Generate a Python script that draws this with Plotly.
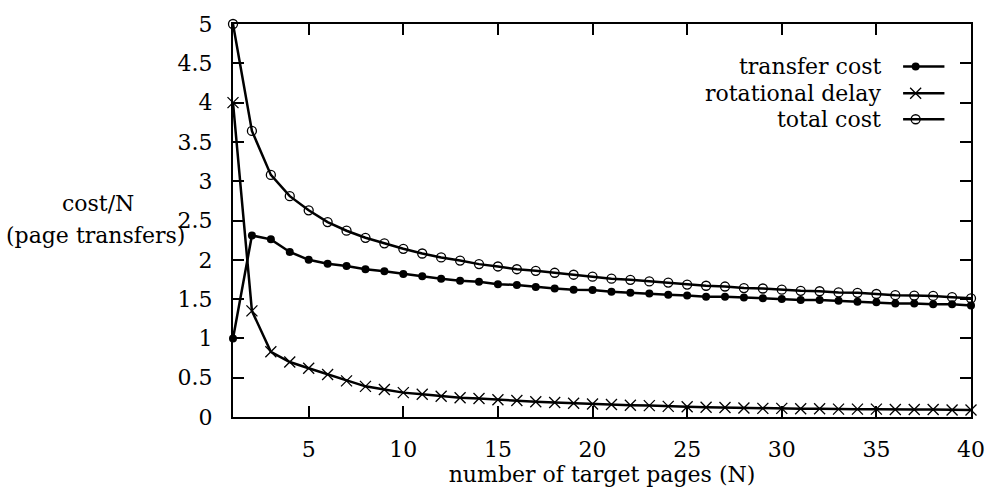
import plotly.graph_objects as go

N = list(range(1, 41))
transfer_cost = [1.00, 2.31, 2.26, 2.10, 2.00, 1.95, 1.92, 1.88, 1.855, 1.82,
                 1.79, 1.76, 1.735, 1.72, 1.69, 1.68, 1.655, 1.635, 1.62, 1.615,
                 1.595, 1.58, 1.57, 1.555, 1.545, 1.53, 1.53, 1.52, 1.51, 1.50,
                 1.49, 1.49, 1.48, 1.465, 1.46, 1.445, 1.445, 1.435, 1.435, 1.42]
rotational_delay = [4.00, 1.35, 0.83, 0.70, 0.62, 0.54, 0.46, 0.39, 0.35, 0.31,
                    0.29, 0.265, 0.245, 0.235, 0.22, 0.21, 0.195, 0.185, 0.175, 0.165,
                    0.16, 0.15, 0.145, 0.135, 0.13, 0.125, 0.12, 0.115, 0.11, 0.11,
                    0.105, 0.105, 0.10, 0.10, 0.10, 0.095, 0.095, 0.095, 0.09, 0.09]
total_cost = [5.00, 3.64, 3.08, 2.81, 2.63, 2.48, 2.37, 2.28, 2.21, 2.14,
              2.08, 2.03, 1.99, 1.945, 1.915, 1.88, 1.86, 1.835, 1.81, 1.785,
              1.76, 1.745, 1.725, 1.71, 1.685, 1.67, 1.66, 1.64, 1.635, 1.62,
              1.605, 1.60, 1.585, 1.58, 1.565, 1.55, 1.545, 1.54, 1.525, 1.51]
x_ticks = [5, 10, 15, 20, 25, 30, 35, 40]
y_ticks = [0, 0.5, 1, 1.5, 2, 2.5, 3, 3.5, 4, 4.5, 5]
y_tick_text = ["0", "0.5", "1", "1.5", "2", "2.5", "3", "3.5", "4", "4.5", "5"]
series_names = ["transfer cost", "rotational delay", "total cost"]

FONT = "DejaVu Serif"
FS = 22
LW = 2.5

fig = go.Figure()

styles = [
    dict(symbol="circle", size=8, color="black", line=dict(width=0)),
    dict(symbol="x-thin", size=11, color="black", line=dict(width=1.3, color="black")),
    dict(symbol="circle-open", size=9, color="black", line=dict(width=1.3, color="black")),
]
for name, ys, st in zip(series_names, [transfer_cost, rotational_delay, total_cost], styles):
    fig.add_trace(go.Scatter(x=N, y=ys, mode="lines+markers", name=name,
                             line=dict(color="black", width=LW), marker=st,
                             cliponaxis=False, showlegend=False))

# custom gnuplot-style key (text right, sample at right) on an overlay paper axis
key_y = [0.8917, 0.8237, 0.7576]
for name, ky, st in zip(series_names, key_y, styles):
    fig.add_trace(go.Scatter(x=[0.908, 0.964], y=[ky, ky], mode="lines",
                             line=dict(color="black", width=LW),
                             xaxis="x2", yaxis="y2", showlegend=False, hoverinfo="skip"))
    fig.add_trace(go.Scatter(x=[0.925], y=[ky], mode="markers", marker=st,
                             xaxis="x2", yaxis="y2", showlegend=False, hoverinfo="skip",
                             cliponaxis=False))
    fig.add_annotation(text=name, xref="paper", yref="paper", x=0.8813, y=ky,
                       xanchor="right", yanchor="middle", showarrow=False,
                       font=dict(family=FONT, size=FS, color="black"))

fig.add_annotation(text="cost/N", xref="paper", yref="paper",
                   x=-0.1827, y=0.5422, xanchor="center", yanchor="middle",
                   showarrow=False, font=dict(family=FONT, size=FS, color="black"))
fig.add_annotation(text="(page transfers)", xref="paper", yref="paper",
                   x=-0.1867, y=0.4627, xanchor="center", yanchor="middle",
                   showarrow=False, font=dict(family=FONT, size=FS, color="black"))

axis_common = dict(showgrid=False, zeroline=False, showline=True, linecolor="black",
                   linewidth=2, mirror="allticks", ticks="inside", ticklen=11,
                   tickwidth=2, tickcolor="black",
                   tickfont=dict(family=FONT, size=FS, color="black"))

fig.update_layout(
    width=997, height=492,
    margin=dict(l=233, r=14, t=16, b=74),
    paper_bgcolor="white", plot_bgcolor="white",
    xaxis=dict(range=[1, 40], tickvals=x_ticks, ticklabelstandoff=12,
               title=dict(text="number of target pages (N)", standoff=2,
                          font=dict(family=FONT, size=FS, color="black")),
               **axis_common),
    yaxis=dict(range=[0, 5], tickvals=y_ticks, ticktext=y_tick_text,
               ticklabelstandoff=14, **axis_common),
    xaxis2=dict(range=[0, 1], overlaying="x", visible=False, fixedrange=True),
    yaxis2=dict(range=[0, 1], overlaying="y", visible=False, fixedrange=True),
    showlegend=False,
)

fig.write_html("out.html")
